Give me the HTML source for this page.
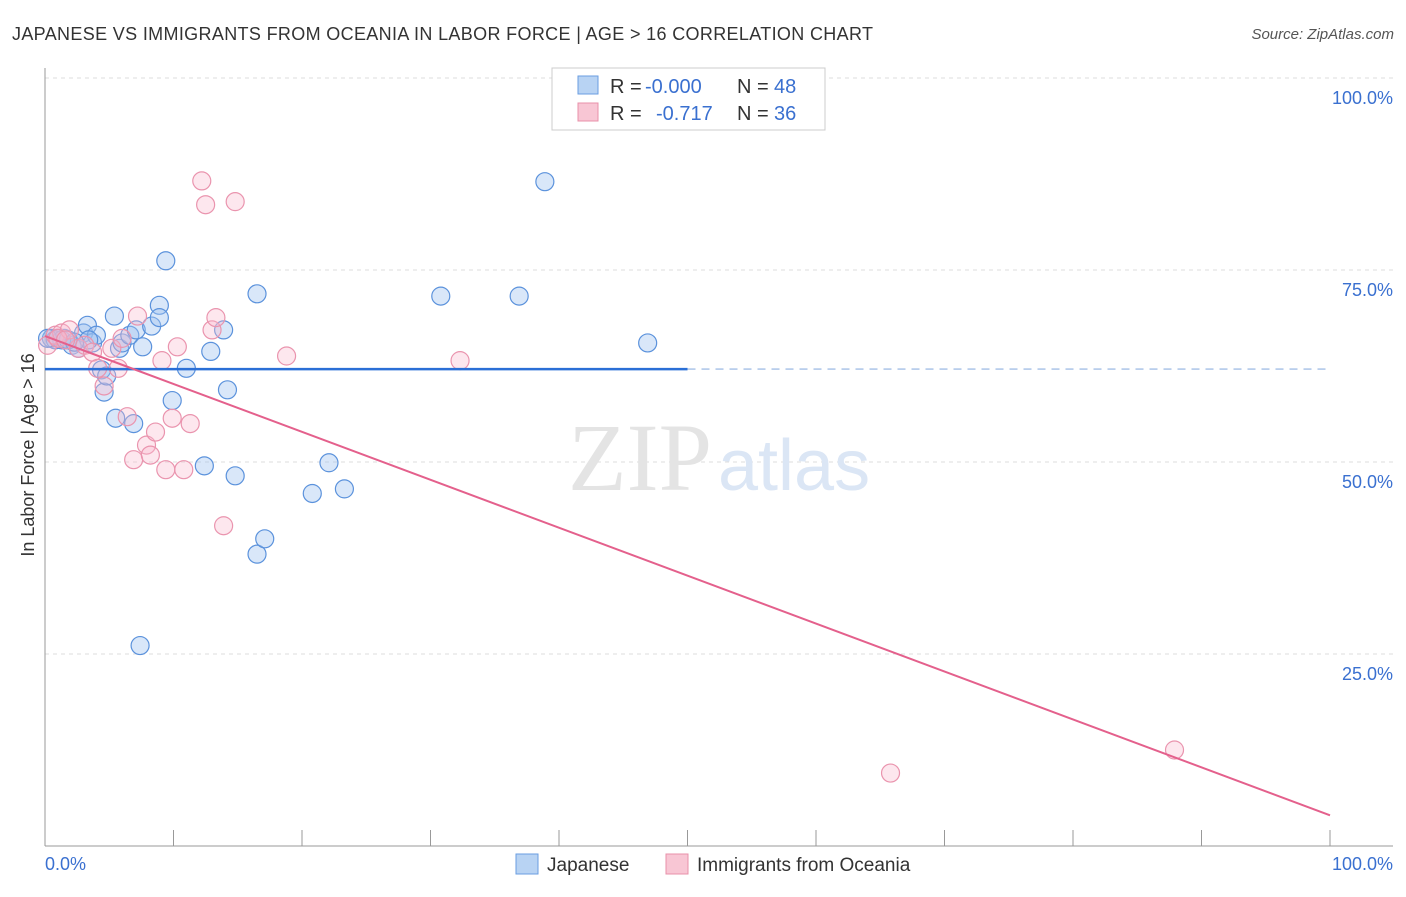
<!DOCTYPE html>
<html><head><meta charset="utf-8"><style>
body{margin:0;background:#fff;font-family:"Liberation Sans",sans-serif}
</style></head><body>
<svg id="c" width="1406" height="892" xmlns="http://www.w3.org/2000/svg">
<text x="12" y="40" font-size="18" fill="#333" textLength="861">JAPANESE VS IMMIGRANTS FROM OCEANIA IN LABOR FORCE | AGE &gt; 16 CORRELATION CHART</text>
<text x="1394" y="39" font-size="15" fill="#555" font-style="italic" text-anchor="end">Source: ZipAtlas.com</text>
<g id="grid"></g>
<text x="712" y="490" font-size="96" fill="#e4e4e4" font-family="Liberation Serif" text-anchor="end">ZIP</text>
<text x="718" y="490" font-size="72" fill="#dbe6f5">atlas</text>
<text transform="translate(34,455) rotate(-90)" font-size="18" fill="#333" text-anchor="middle">In Labor Force | Age &gt; 16</text>
<g id="pts"></g>
<g id="lines"></g>
<g font-size="20">
<rect x="552" y="68" width="273" height="62" fill="#fff" stroke="#ccc"/>
<rect x="578" y="76" width="20" height="18" fill="#b8d3f3" stroke="#6a9ee0"/>
<text x="610" y="93" fill="#333">R =</text><text x="645" y="93" fill="#3a70d0">-0.000</text>
<text x="737" y="93" fill="#333">N =</text><text x="774" y="93" fill="#3a70d0">48</text>
<rect x="578" y="103" width="20" height="18" fill="#f8c6d4" stroke="#e890aa"/>
<text x="610" y="120" fill="#333">R =</text><text x="656" y="120" fill="#3a70d0">-0.717</text>
<text x="737" y="120" fill="#333">N =</text><text x="774" y="120" fill="#3a70d0">36</text>
</g>
<g>
<rect x="516" y="854" width="22" height="20" fill="#b8d3f3" stroke="#6a9ee0"/>
<text x="547" y="871" font-size="19" fill="#333">Japanese</text>
<rect x="666" y="854" width="22" height="20" fill="#f8c6d4" stroke="#e890aa"/>
<text x="697" y="871" font-size="19" fill="#333">Immigrants from Oceania</text>
</g>
</svg>
<script>
const yTicks=[25,50,75,100];
const xTickLabels=["0.0%","100.0%"];
const blueX=[0.5,1,1.5,2.1,2.6,3,3.3,3.7,4,4.4,4.6,4.8,5.4,5.5,5.8,6,6.6,6.9,7.1,7.6,8.3,7.4,8.9,8.9,9.4,9.9,11,12.4,12.9,13.9,14.2,14.8,16.5,16.5,17.1,20.8,22.1,23.3,30.8,36.9,38.9,46.9,0.8,1.3,1.8,3.4,2.3,0.2];
const blueY=[66.1,66.1,66.1,65.2,64.8,66.8,67.8,65.5,66.5,62,59.1,61.2,69,55.7,64.8,65.5,66.5,55,67.2,65,67.7,26.1,70.4,68.8,76.2,58,62.2,49.5,64.4,67.2,59.4,48.2,71.9,38,40,45.9,49.9,46.5,71.6,71.6,86.5,65.5,65.9,65.9,65.9,65.9,65.6,66.1];
const pinkX=[0.2,0.8,1.3,1.9,2.6,3.1,3.7,4.1,4.6,5.2,5.7,6,6.4,6.9,7.2,7.9,8.2,8.6,9.1,9.4,9.9,10.3,10.8,11.3,12.2,12.5,13,13.3,13.9,14.8,18.8,32.3,65.8,87.9,1,1.6];
const pinkY=[65.2,66.5,66.8,67.2,64.8,65.2,64.3,62.2,59.9,64.8,62.2,66.1,55.9,50.3,69,52.2,50.9,53.9,63.2,49,55.7,65,49,55,86.6,83.5,67.2,68.8,41.7,83.9,63.8,63.2,9.5,12.5,66.1,65.9];
const blueFit=62.1, pinkA=66.4, pinkB=4.0;
const X=v=>45+v*12.85, Y=v=>846-v*7.68;
const NS="http://www.w3.org/2000/svg";
const mk=(p,t,a)=>{const e=document.createElementNS(NS,t);for(const k in a)e.setAttribute(k,a[k]);p.appendChild(e);return e;};
const g=document.getElementById('grid');
yTicks.forEach(t=>{
 const l=mk(g,'line',{x1:45,x2:1393,y1:Y(t),y2:Y(t),stroke:'#ddd','stroke-dasharray':'4,4'});
 
 
 const tx=mk(g,'text',{x:1393,y:Y(t)+26,'font-size':18,fill:'#3a70d0','text-anchor':'end'});
 tx.textContent=t.toFixed(1)+'%';
 
 
});
mk(g,'line',{x1:45,x2:45,y1:68,y2:846,stroke:'#999'});
mk(g,'line',{x1:45,x2:1393,y1:846,y2:846,stroke:'#999'});
for(let i=0;i<=10;i++){const x=X(i*10);mk(g,'line',{x1:x,x2:x,y1:830,y2:846,stroke:'#999'});}
const xl0=mk(g,'text',{x:45,y:870,'font-size':18,fill:'#3a70d0'});xl0.textContent=xTickLabels[0];


const xl1=mk(g,'text',{x:1393,y:870,'font-size':18,fill:'#3a70d0','text-anchor':'end'});xl1.textContent=xTickLabels[1];


const p=document.getElementById('pts');
blueX.forEach((v,i)=>{const c=mk(p,'circle',{cx:X(v),cy:Y(blueY[i]),r:9,fill:'rgba(160,195,240,0.4)',stroke:'#5b92dc','stroke-width':1.2});
 
 });
pinkX.forEach((v,i)=>{const c=mk(p,'circle',{cx:X(v),cy:Y(pinkY[i]),r:9,fill:'rgba(248,185,205,0.35)',stroke:'#ea94ae','stroke-width':1.2});
 
 });
const L=document.getElementById('lines');
const b1=mk(L,'line',{x1:X(0),x2:X(50),y1:Y(blueFit),y2:Y(blueFit),stroke:'#2a6fd6','stroke-width':2.5});


const b2=mk(L,'line',{x1:X(50),x2:X(100),y1:Y(blueFit),y2:Y(blueFit),stroke:'#8fb0e0','stroke-width':1.2,'stroke-dasharray':'8,6'});


const pl=mk(L,'line',{x1:X(0),x2:X(100),y1:Y(pinkA),y2:Y(pinkB),stroke:'#e4608c','stroke-width':2});


</script>
</body></html>
